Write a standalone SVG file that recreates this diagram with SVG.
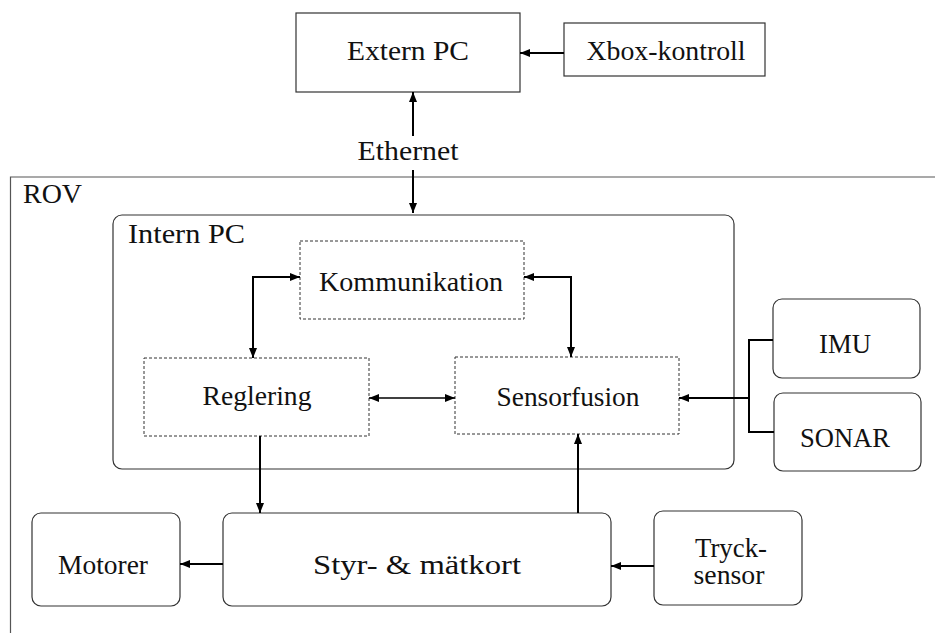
<svg xmlns="http://www.w3.org/2000/svg" width="935" height="633" viewBox="0 0 935 633" font-family="Liberation Serif, serif" font-size="27">
<defs>
<style>
text{font-family:"Liberation Serif",serif;font-size:27px;fill:#111;text-anchor:middle}
text.tl{text-anchor:start}
.b{fill:#fff;stroke:#333;stroke-width:1.2}
.d{fill:#fff;stroke:#333;stroke-width:1;stroke-dasharray:3,2}
.c{fill:none;stroke:#000;stroke-width:2}
</style>
<marker id="ah" viewBox="0 0 10 8" refX="10" refY="4" markerWidth="10" markerHeight="8" markerUnits="userSpaceOnUse" orient="auto-start-reverse">
<path d="M0,0 L10,4 L0,8 z" fill="#000"/>
</marker>
</defs>
<rect width="935" height="633" fill="#fff"/>
<g id="rov">
<path d="M935,177 H10.5 V633" fill="none" stroke="#555" stroke-width="1.2"/>
<text class="tl" x="23" y="203" textLength="59" lengthAdjust="spacingAndGlyphs">ROV</text>
</g>
<g id="intern-pc">
<rect class="b" x="113" y="215" width="621" height="254" rx="9"/>
<text class="tl" x="128" y="243" textLength="117" lengthAdjust="spacingAndGlyphs">Intern PC</text>
</g>
<g id="extern-pc">
<rect class="b" x="296" y="13" width="224" height="79"/>
<text x="408" y="60" textLength="122" lengthAdjust="spacingAndGlyphs">Extern PC</text>
</g>
<g id="xbox">
<rect class="b" x="564" y="23" width="201" height="53"/>
<text x="666" y="60" textLength="159" lengthAdjust="spacingAndGlyphs">Xbox-kontroll</text>
</g>
<g id="ethernet">
<text x="408" y="160" textLength="101" lengthAdjust="spacingAndGlyphs">Ethernet</text>
</g>
<g id="kommunikation">
<rect class="d" x="300" y="241" width="224" height="78"/>
<text x="411" y="291" textLength="184" lengthAdjust="spacingAndGlyphs">Kommunikation</text>
</g>
<g id="reglering">
<rect class="d" x="144" y="358" width="225" height="78"/>
<text x="257" y="405" textLength="109" lengthAdjust="spacingAndGlyphs">Reglering</text>
</g>
<g id="sensorfusion">
<rect class="d" x="455" y="357" width="224" height="77"/>
<text x="568" y="406" textLength="143" lengthAdjust="spacingAndGlyphs">Sensorfusion</text>
</g>
<g id="imu">
<rect class="b" x="773" y="299" width="147" height="79" rx="9"/>
<text x="845" y="353" textLength="52" lengthAdjust="spacingAndGlyphs">IMU</text>
</g>
<g id="sonar">
<rect class="b" x="774" y="393" width="147" height="78" rx="9"/>
<text x="845" y="447" textLength="90" lengthAdjust="spacingAndGlyphs">SONAR</text>
</g>
<g id="motorer">
<rect class="b" x="32" y="513" width="148" height="93" rx="9"/>
<text x="103" y="574" textLength="90" lengthAdjust="spacingAndGlyphs">Motorer</text>
</g>
<g id="styr">
<rect class="b" x="223" y="513" width="388" height="93" rx="9"/>
<text x="417" y="574" textLength="208" lengthAdjust="spacingAndGlyphs">Styr- &amp; mätkort</text>
</g>
<g id="tryck">
<rect class="b" x="654" y="511" width="148" height="94" rx="9"/>
<text x="731" y="557" textLength="72" lengthAdjust="spacingAndGlyphs">Tryck-</text>
<text x="729" y="584" textLength="71" lengthAdjust="spacingAndGlyphs">sensor</text>
</g>
<g id="connectors">
<path class="c" d="M564,53 H520" marker-end="url(#ah)"/>
<path class="c" d="M413,136 V92" marker-end="url(#ah)"/>
<path class="c" d="M413,170 V213" marker-end="url(#ah)"/>
<path class="c" d="M300,277 H253 V358" marker-start="url(#ah)" marker-end="url(#ah)"/>
<path class="c" d="M524,277 H571 V357" marker-start="url(#ah)" marker-end="url(#ah)"/>
<path class="c" style="stroke-width:1.5" d="M369,398 H455" marker-start="url(#ah)" marker-end="url(#ah)"/>
<path class="c" d="M773,340 H749 V432 H774"/>
<path class="c" d="M749,398 H679" marker-end="url(#ah)"/>
<path class="c" d="M260,436 V513" marker-end="url(#ah)"/>
<path class="c" d="M578,513 V434" marker-end="url(#ah)"/>
<path class="c" d="M223,564 H180" marker-end="url(#ah)"/>
<path class="c" d="M654,566 H611" marker-end="url(#ah)"/>
</g>
</svg>
